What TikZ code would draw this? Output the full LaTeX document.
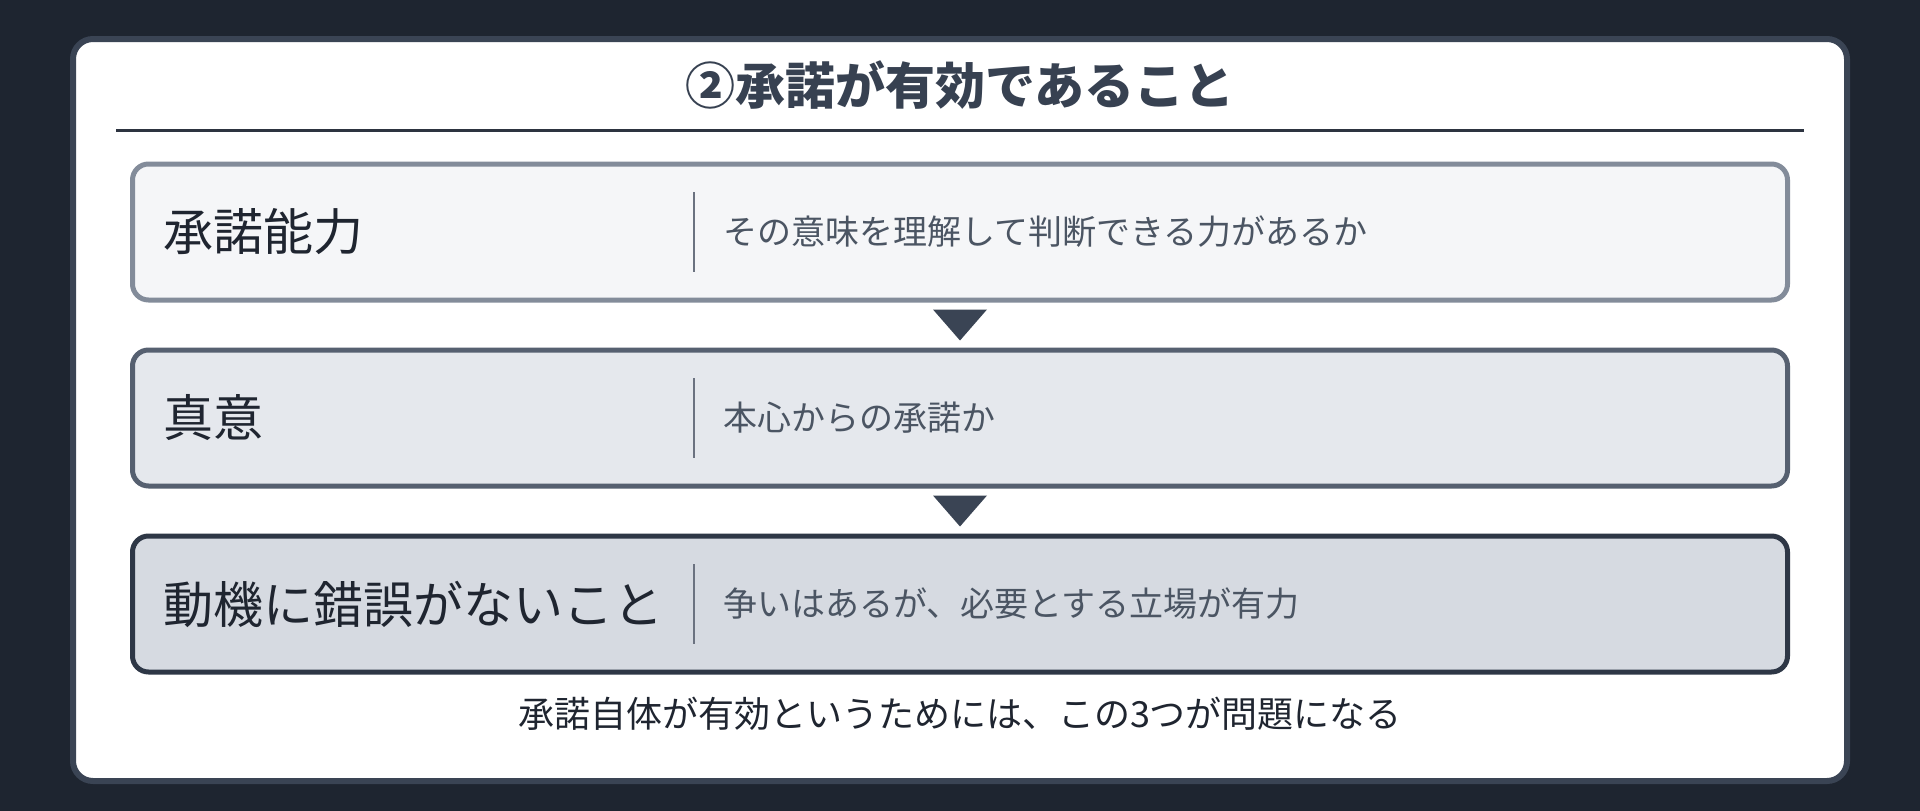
\documentclass[tikz,border=0pt]{standalone}
\usepackage{fontspec}
\setmainfont{Noto Sans CJK JP}
\usetikzlibrary{calc}
\definecolor{bgdark}{HTML}{1E2530}
\definecolor{cardline}{HTML}{3A4454}
\definecolor{titlegray}{HTML}{374151}
\definecolor{rulegray}{HTML}{2D3440}
\definecolor{line1}{HTML}{838C9A}
\definecolor{fill1}{HTML}{F5F6F8}
\definecolor{line2}{HTML}{566070}
\definecolor{fill2}{HTML}{E5E8ED}
\definecolor{line3}{HTML}{2E3746}
\definecolor{fill3}{HTML}{D6DAE1}
\definecolor{labeltext}{HTML}{1F2530}
\definecolor{desctext}{HTML}{4B5563}
\definecolor{divgray}{HTML}{6B7280}

\begin{document}
\begin{tikzpicture}[x=1pt,y=-1pt,inner sep=0pt]
  \tikzstyle{stage}=[rounded corners=16pt,line width=5pt,minimum width=1655pt,minimum height=136pt]
  \tikzstyle{stagename}=[anchor=west,text=labeltext,font=\fontsize{50}{60}\selectfont]
  \tikzstyle{stagenote}=[anchor=west,text=desctext,font=\fontsize{34}{40}\selectfont]
  \tikzstyle{divline}=[draw=divgray,line width=2.5pt]
  \tikzstyle{tri}=[fill=cardline]
  \fill[bgdark] (0,0) rectangle (1920,811);
  \useasboundingbox (0,0) rectangle (1920,811);
  \node[draw=cardline,fill=white,line width=6pt,rounded corners=20pt,
        minimum width=1774pt,minimum height=742pt] (card) at (960,410) {};

  \node[text=titlegray,font=\fontsize{50}{60}\selectfont\bfseries] (title) at (960,85) {②承諾が有効であること};
  \draw[rulegray,line width=3pt] (116,130) -- (1804,130);

  \node[stage,draw=line1,fill=fill1] (capacity) at (960,232) {};
  \node[stage,draw=line2,fill=fill2] (intent)   at (960,418) {};
  \node[stage,draw=line3,fill=fill3] (motive)   at (960,604) {};

  \node[stagename] (capname)    at (163,232) {承諾能力};
  \node[stagename] (intentname) at (163,418) {真意};
  \node[stagename] (motivename) at (163,604) {動機に錯誤がないこと};

  \draw[divline] (694,192) -- (694,272);
  \draw[divline] (694,378) -- (694,458);
  \draw[divline] (694,564) -- (694,644);

  \node[stagenote] (capnote)    at (723,232) {その意味を理解して判断できる力があるか};
  \node[stagenote] (intentnote) at (723,418) {本心からの承諾か};
  \node[stagenote] (motivenote) at (723,604) {争いはあるが、必要とする立場が有力};

  \coordinate (t1) at ($(capacity.south)!0.5!(intent.north)$);
  \coordinate (t2) at ($(intent.south)!0.5!(motive.north)$);
  \fill[tri] ($(t1)+(-27,-15.5)$) -- ($(t1)+(27,-15.5)$) -- ($(t1)+(0,15.5)$) -- cycle;
  \fill[tri] ($(t2)+(-27,-15.5)$) -- ($(t2)+(27,-15.5)$) -- ($(t2)+(0,15.5)$) -- cycle;

  \node[text=labeltext,font=\fontsize{36}{43}\selectfont] (caption) at (960,714) {承諾自体が有効というためには、この3つが問題になる};
\end{tikzpicture}
\end{document}
